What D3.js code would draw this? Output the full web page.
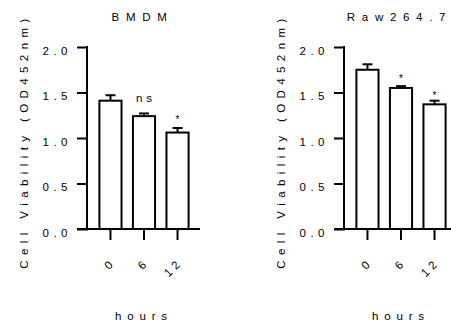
<!DOCTYPE html>
<html>
<head>
<meta charset="utf-8">
<script src="https://cdn.jsdelivr.net/npm/d3@7"></script>
<style>
  body { margin: 0; background: #fff; }
  svg text { font-family: "Liberation Sans", Arial, sans-serif; fill: #000; }
</style>
</head>
<body>
<div id="chart"></div>
<script>
// values
const hours = ["0", "6", "12"];
const yTicks = [0, 0.5, 1.0, 1.5, 2.0];

const bmdmMean = [1.41, 1.24, 1.06];
const bmdmErr = [0.06, 0.03, 0.05];
const bmdmSig = ["", "ns", "*"];
const bmdmSigLevel = [0, 1.40, 1.17];

const rawMean = [1.75, 1.55, 1.37];
const rawErr = [0.06, 0.02, 0.04];
const rawSig = ["", "*", "*"];
const rawSigLevel = [0, 1.61, 1.43];

const W = 451, H = 322;
const svg = d3.select("#chart").append("svg")
  .attr("width", W)
  .attr("height", H);

function drawPanel(offsetX, title, means, errs, sigs, sigLevels) {
  const g = svg.append("g").attr("transform", `translate(${offsetX},0)`);
  const left = 88, right = 200, top = 47, bottom = 229;

  const y = d3.scaleLinear().domain([0, 2]).range([bottom, top]);
  const x = d3.scaleBand()
    .domain(hours)
    .range([left, right])
    .paddingInner(0.34)
    .paddingOuter(0.34);

  const rows = hours.map((h, i) => ({ h: h, m: means[i], e: errs[i], s: sigs[i], l: sigLevels[i] }));

  // bars
  g.selectAll("rect.bar")
    .data(rows)
    .enter().append("rect")
    .attr("class", "bar")
    .attr("x", d => x(d.h))
    .attr("y", d => y(d.m))
    .attr("width", x.bandwidth())
    .attr("height", d => y(0) - y(d.m))
    .attr("fill", "#fff")
    .attr("stroke", "#000")
    .attr("stroke-width", 2);

  // error bars (upper only)
  const cx = d => x(d.h) + x.bandwidth() / 2;
  g.selectAll("line.err")
    .data(rows)
    .enter().append("line")
    .attr("x1", cx).attr("x2", cx)
    .attr("y1", d => y(d.m)).attr("y2", d => y(d.m + d.e))
    .attr("stroke", "#000").attr("stroke-width", 2);
  g.selectAll("line.cap")
    .data(rows)
    .enter().append("line")
    .attr("x1", d => cx(d) - 5).attr("x2", d => cx(d) + 5)
    .attr("y1", d => y(d.m + d.e)).attr("y2", d => y(d.m + d.e))
    .attr("stroke", "#000").attr("stroke-width", 2);

  // significance marks
  g.selectAll("text.sig")
    .data(rows.filter(d => d.s))
    .enter().append("text")
    .attr("x", d => cx(d) + (d.s === "ns" ? 2 : 0))
    .attr("y", d => y(d.l))
    .attr("text-anchor", "middle")
    .style("font-size", d => d.s === "ns" ? "11.5px" : "10px")
    .style("letter-spacing", d => d.s === "ns" ? "4px" : "0px")
    .text(d => d.s);

  // y axis
  const yAxis = g.append("g")
    .attr("transform", `translate(${left},0)`)
    .call(d3.axisLeft(y).tickValues(yTicks).tickSize(11).tickPadding(5).tickFormat(d3.format(".1f")));
  yAxis.select(".domain").remove();
  yAxis.selectAll(".tick line").attr("stroke-width", 2);
  yAxis.selectAll(".tick text")
    .style("font-size", "11.5px")
    .style("letter-spacing", "4.5px")
    .attr("x", -16)
    .attr("dy", "7px");
  g.append("line")
    .attr("x1", left - 1).attr("x2", left - 1)
    .attr("y1", top - 1).attr("y2", bottom)
    .attr("stroke", "#000").attr("stroke-width", 2);

  // x axis
  const xAxis = g.append("g")
    .attr("transform", `translate(0,${bottom})`)
    .call(d3.axisBottom(x).tickSize(11));
  xAxis.select(".domain").remove();
  xAxis.selectAll(".tick line").attr("stroke-width", 2);
  xAxis.selectAll(".tick text")
    .style("font-size", "11.5px")
    .style("letter-spacing", "4px")
    .attr("text-anchor", "end")
    .attr("y", null)
    .attr("dy", "0.35em")
    .attr("transform", "translate(3,31) rotate(-45)");
  g.append("line")
    .attr("x1", left - 11).attr("x2", right)
    .attr("y1", bottom).attr("y2", bottom)
    .attr("stroke", "#000").attr("stroke-width", 2);

  // title
  g.append("text")
    .attr("x", 139 + 3.5)
    .attr("y", 21)
    .attr("text-anchor", "middle")
    .style("font-size", "11.5px")
    .style("letter-spacing", "6.7px")
    .text(title);

  // axis titles
  g.append("text")
    .attr("transform", "translate(28,141) rotate(-90)")
    .attr("text-anchor", "middle")
    .style("font-size", "11.5px")
    .style("letter-spacing", "5.4px")
    .text("Cell Viability (OD452nm)");

  g.append("text")
    .attr("x", 141 + 3)
    .attr("y", 320)
    .attr("text-anchor", "middle")
    .style("font-size", "11.5px")
    .style("letter-spacing", "5.8px")
    .text("hours");
}

drawPanel(0, "BMDM", bmdmMean, bmdmErr, bmdmSig, bmdmSigLevel);
drawPanel(257, "Raw264.7", rawMean, rawErr, rawSig, rawSigLevel);
</script>
</body>
</html>
